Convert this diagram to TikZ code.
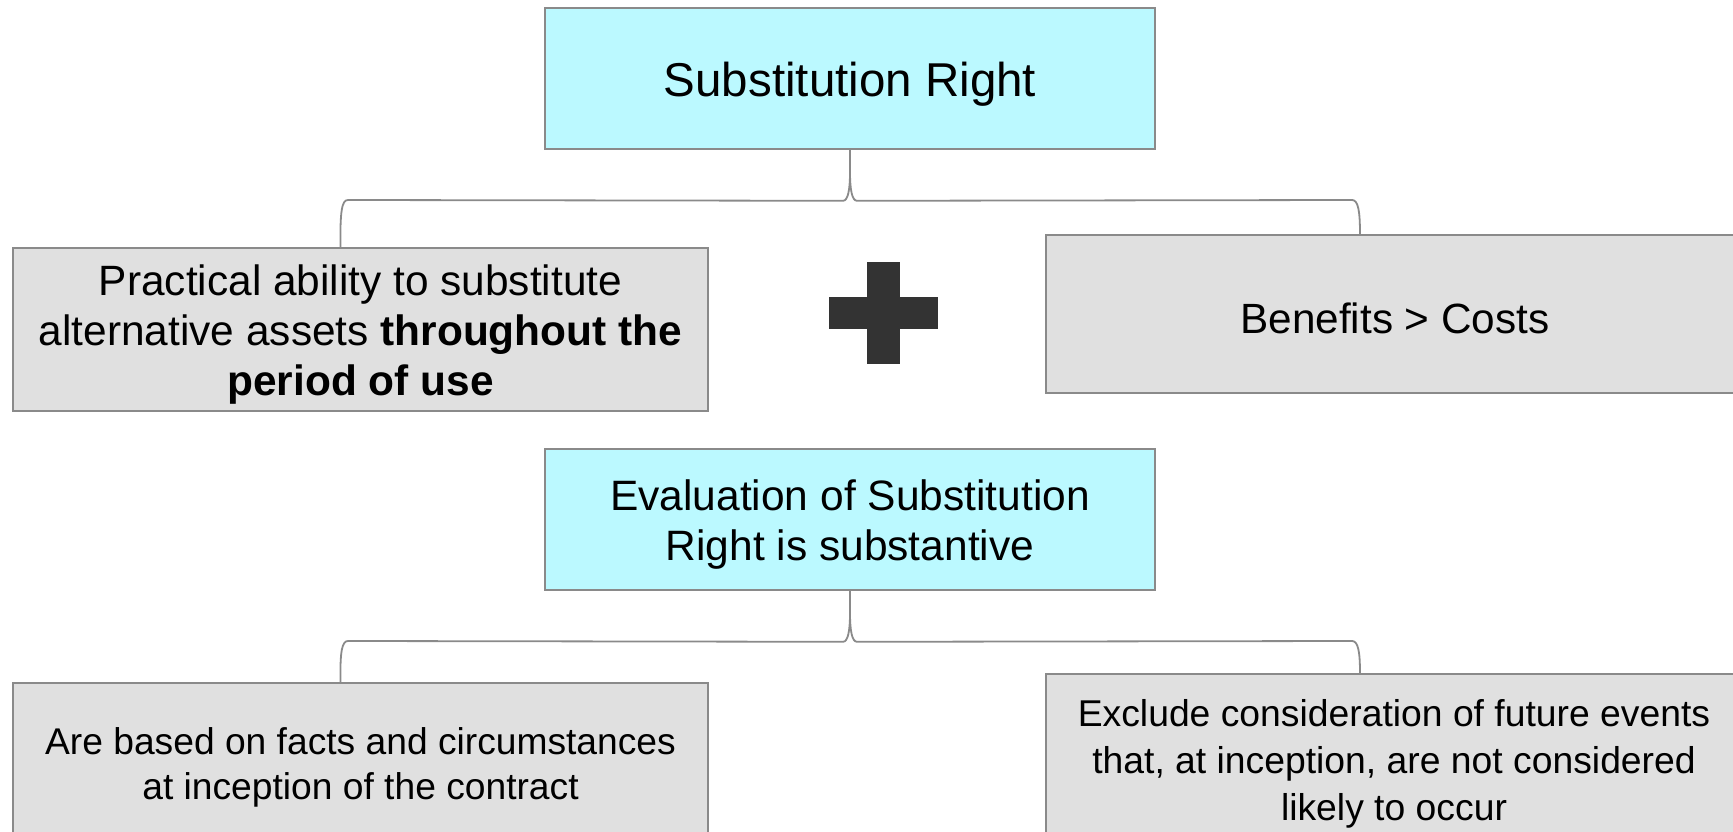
\documentclass[tikz,border=0pt]{standalone}
\usepackage{fontspec}
\setmainfont{Liberation Sans}
\definecolor{cyanfill}{HTML}{BBF9FF}
\definecolor{grayfill}{HTML}{E0E0E0}
\definecolor{edgegray}{HTML}{8A8A8A}
\definecolor{plusc}{HTML}{333333}
\newcommand\firstln{\rule{0pt}{0.95em}}
\begin{document}
\begin{tikzpicture}[x=1pt,y=-1pt,
  basebox/.style={draw=edgegray, line width=1.6pt, align=center, inner sep=0pt, text=black},
  cyanbox/.style={basebox, fill=cyanfill, minimum width=610pt, minimum height=141pt},
  graybox/.style={basebox, fill=grayfill},
  link/.style={draw=edgegray, line width=1.8pt}]
\useasboundingbox (0,0) rectangle (1733,832);

\node[cyanbox, font=\fontsize{47.5}{55}\selectfont] (top) at (850,78.5) {\firstln Substitution Right};
\node[graybox, minimum width=695pt, minimum height=163pt, font=\fontsize{42.4}{50}\selectfont] (left) at (360.5,329.5)
  {\firstln Practical ability to substitute\\alternative assets \textbf{throughout the}\\\textbf{period of use}};
\node[graybox, minimum width=698pt, minimum height=158pt, font=\fontsize{42.3}{50}\selectfont] (right) at (1395,314)
  {\firstln Benefits > Costs};
\node[cyanbox, font=\fontsize{42.5}{50}\selectfont] (eval) at (850,519.5) {\firstln Evaluation of Substitution\\Right is substantive};
\node[graybox, minimum width=695pt, minimum height=160pt, font=\fontsize{37.2}{45}\selectfont] (bl) at (360.5,763)
  {\firstln Are based on facts and circumstances\\at inception of the contract};
\node[graybox, minimum width=696pt, minimum height=172pt, font=\fontsize{37.3}{47}\selectfont] (br) at (1394,760)
  {\firstln Exclude consideration of future events\\that, at inception, are not considered\\likely to occur};

% plus sign
\fill[plusc] (829,297) rectangle (938,329);
\fill[plusc] (867,262) rectangle (900,364);

% connectors (brace style)
\draw[link] (top.south) -- ++(0,22) .. controls ++(0,18) and ++(5,0) .. ++(-7,29)
  -- (348,200) .. controls (342,200) and (340,210) .. ([xshift=-20pt]left.north);
\draw[link] (top.south) ++(0,22) .. controls ++(0,18) and ++(-5,0) .. ++(7,29)
  -- (1352,200) .. controls (1358,200) and (1360,210) .. ([xshift=-35pt]right.north);
\draw[link] (eval.south) -- ++(0,22) .. controls ++(0,18) and ++(5,0) .. ++(-7,29)
  -- (348,641) .. controls (342,641) and (340,651) .. ([xshift=-20pt]bl.north);
\draw[link] (eval.south) ++(0,22) .. controls ++(0,18) and ++(-5,0) .. ++(7,29)
  -- (1352,641) .. controls (1358,641) and (1360,651) .. ([xshift=-34pt]br.north);
\end{tikzpicture}
\end{document}
